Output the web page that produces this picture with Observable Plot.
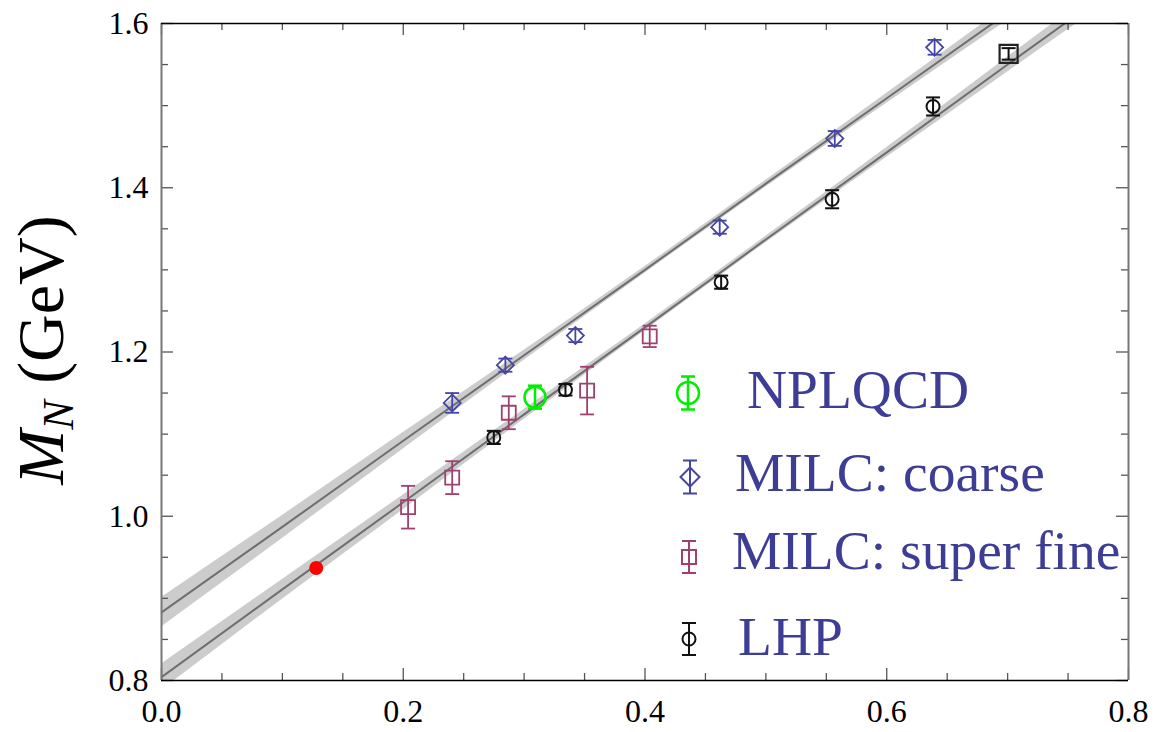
<!DOCTYPE html>
<html><head><meta charset="utf-8">
<script src="https://cdn.jsdelivr.net/npm/d3@7"></script>
<script src="https://cdn.jsdelivr.net/npm/@observablehq/plot@0.6"></script>
<style>
body{margin:0;background:#fff}
#chart{position:relative;width:1170px;height:732px}
#chart svg text, #chart svg tspan{font-family:"Liberation Serif","Times New Roman",serif}
</style>
</head><body><div id="chart"></div>
<script>
// ---- axes ----
const xDomain = [0, 0.8];
const yDomain = [0.8, 1.6];
const xMajor = [0, 0.2, 0.4, 0.6, 0.8];
const xMinor = [0.05, 0.1, 0.15, 0.25, 0.3, 0.35, 0.45, 0.5, 0.55, 0.65, 0.7, 0.75];
const yMajor = [0.8, 1.0, 1.2, 1.4, 1.6];
const yMinor = [0.85, 0.9, 0.95, 1.05, 1.1, 1.15, 1.25, 1.3, 1.35, 1.45, 1.5, 1.55];
const yLabelMain = "M";
const yLabelSub = "N";
const yLabelUnit = " (GeV)";

// ---- fit bands ----
const fitX      = [0, 0.1, 0.2, 0.3, 0.4, 0.5, 0.6, 0.7, 0.8];
const upperFit  = [0.883, 0.987, 1.092, 1.196, 1.300, 1.405, 1.509, 1.613, 1.717];
const upperHalf = [0.018, 0.014, 0.010, 0.006, 0.004, 0.004, 0.006, 0.009, 0.012];
const lowerFit  = [0.804, 0.911, 1.017, 1.124, 1.230, 1.337, 1.443, 1.550, 1.656];
const lowerHalf = [0.016, 0.012, 0.009, 0.006, 0.004, 0.004, 0.006, 0.009, 0.012];

// ---- data series ----
const nplqcdX = [0.309];
const nplqcdY = [1.145];
const nplqcdE = [0.014];

const coarseX = [0.2405, 0.2845, 0.3424, 0.4618, 0.557, 0.6396];
const coarseY = [1.138, 1.184, 1.220, 1.352, 1.460, 1.571];
const coarseE = [0.012, 0.008, 0.008, 0.008, 0.009, 0.009];

const superX = [0.204, 0.2405, 0.2873, 0.3521, 0.4039];
const superY = [1.011, 1.047, 1.126, 1.153, 1.219];
const superE = [0.026, 0.020, 0.020, 0.029, 0.013];

const lhpX = [0.2749, 0.3342, 0.463, 0.5548, 0.6383];
const lhpY = [1.096, 1.154, 1.285, 1.386, 1.499];
const lhpE = [0.008, 0.007, 0.008, 0.011, 0.011];

const heavyX = [0.7008];
const heavyY = [1.563];
const heavyE = [0.007];

const physX = [0.128];
const physY = [0.937];

const legendLabels = ["NPLQCD", "MILC: coarse", "MILC: super fine", "LHP"];

// ---- colors ----
const cGreen = "#00ee00", cBlue = "#4545a5", cMag = "#a0406f", cBlack = "#111111", cRed = "#ff0000";
const cText = "#3d3d96";
const FONT = "Liberation Serif, Times New Roman, serif";

// ---- helpers ----
const rows = (xs, ys, es) => xs.map((x, i) => ({x, y: ys[i], lo: ys[i] - (es ? es[i] : 0), hi: ys[i] + (es ? es[i] : 0)}));
const band = (c, h) => fitX.map((x, i) => ({x, y: c[i], lo: c[i] - h[i], hi: c[i] + h[i]}));
const capSym = {draw(ctx, size){ const r = Math.sqrt(size/Math.PI); ctx.moveTo(-r,0); ctx.lineTo(r,0); }};
const diamondSym = {draw(ctx, size){ const r = Math.sqrt(size/Math.PI); ctx.moveTo(0,-r); ctx.lineTo(r,0); ctx.lineTo(0,r); ctx.lineTo(-r,0); ctx.closePath(); }};
const squareSym = {draw(ctx, size){ const r = Math.sqrt(size/Math.PI); ctx.rect(-r,-r,2*r,2*r); }};

const W = 1170, H = 732, mL = 161, mR = 42, mT = 23, mB = 52;
const fH = H - mT - mB, fW = W - mL - mR;
const maj = 12, mnr = 7;

function errMarks(data, color, sw) {
  const caps = data.flatMap(d => [{x: d.x, y: d.lo}, {x: d.x, y: d.hi}]);
  return [
    Plot.ruleX(data, {x: "x", y1: "lo", y2: "hi", stroke: color, strokeWidth: sw}),
    Plot.dot(caps, {x: "x", y: "y", symbol: capSym, r: 7, stroke: color, strokeWidth: sw})
  ];
}

const upper = band(upperFit, upperHalf), lower = band(lowerFit, lowerHalf);
const nplqcd = rows(nplqcdX, nplqcdY, nplqcdE);
const coarse = rows(coarseX, coarseY, coarseE);
const sup = rows(superX, superY, superE);
const lhp = rows(lhpX, lhpY, lhpE);
const heavy = rows(heavyX, heavyY, heavyE);
const phys = rows(physX, physY);

const plot = Plot.plot({
  width: W, height: H,
  marginLeft: mL, marginRight: mR, marginTop: mT, marginBottom: mB,
  style: {fontFamily: FONT, fontSize: "32px", color: "black", background: "white"},
  x: {domain: xDomain, label: null},
  y: {domain: yDomain, label: null},
  marks: [
    Plot.areaY(upper, {x: "x", y1: "lo", y2: "hi", fill: "#cccccc", curve: "monotone-x", clip: true}),
    Plot.areaY(lower, {x: "x", y1: "lo", y2: "hi", fill: "#cccccc", curve: "monotone-x", clip: true}),
    Plot.line(upper, {x: "x", y: "y", stroke: "#6e6e6e", strokeWidth: 2, clip: true}),
    Plot.line(lower, {x: "x", y: "y", stroke: "#6e6e6e", strokeWidth: 2, clip: true}),
    // ticks (inward, mirrored)
    Plot.tickX(xMajor, {x: d => d, insetTop: fH - maj, stroke: "#555", strokeWidth: 1.3}),
    Plot.tickX(xMajor, {x: d => d, insetBottom: fH - maj, stroke: "#555", strokeWidth: 1.3}),
    Plot.tickX(xMinor, {x: d => d, insetTop: fH - mnr, stroke: "#555", strokeWidth: 1.3}),
    Plot.tickX(xMinor, {x: d => d, insetBottom: fH - mnr, stroke: "#555", strokeWidth: 1.3}),
    Plot.tickY(yMajor, {y: d => d, insetRight: fW - maj, stroke: "#555", strokeWidth: 1.3}),
    Plot.tickY(yMajor, {y: d => d, insetLeft: fW - maj, stroke: "#555", strokeWidth: 1.3}),
    Plot.tickY(yMinor, {y: d => d, insetRight: fW - mnr, stroke: "#555", strokeWidth: 1.3}),
    Plot.tickY(yMinor, {y: d => d, insetLeft: fW - mnr, stroke: "#555", strokeWidth: 1.3}),
    // frame
    Plot.ruleX(xDomain, {stroke: "#777", strokeWidth: 2}),
    Plot.ruleY(yDomain, {stroke: "black", strokeWidth: 1.5}),
    Plot.axisX({ticks: xMajor, tickSize: 0, tickPadding: 19, tickFormat: d3.format(".1f"), fontSize: 32, fontFamily: FONT, label: null}),
    Plot.axisY({ticks: yMajor, tickSize: 0, tickPadding: 13, tickFormat: d3.format(".1f"), fontSize: 32, fontFamily: FONT, label: null}),
    // data
    ...errMarks(coarse, cBlue, 1.8),
    Plot.dot(coarse, {x: "x", y: "y", symbol: diamondSym, r: 8.5, stroke: cBlue, strokeWidth: 1.8, fill: "none"}),
    ...errMarks(sup, cMag, 1.8),
    Plot.dot(sup, {x: "x", y: "y", symbol: squareSym, r: 7, stroke: cMag, strokeWidth: 1.8, fill: "none"}),
    ...errMarks(lhp, cBlack, 2),
    Plot.dot(lhp, {x: "x", y: "y", symbol: "circle", r: 6.5, stroke: cBlack, strokeWidth: 2, fill: "none"}),
    ...errMarks(heavy, cBlack, 2),
    Plot.dot(heavy, {x: "x", y: "y", symbol: squareSym, r: 9, stroke: "#222", strokeWidth: 2.2, fill: "none"}),
    ...errMarks(nplqcd, cGreen, 2.5),
    Plot.dot(nplqcd, {x: "x", y: "y", symbol: "circle", r: 10.5, stroke: cGreen, strokeWidth: 2.5, fill: "none"}),
    Plot.dot(phys, {x: "x", y: "y", r: 7, fill: cRed})
  ]
});

document.getElementById("chart").appendChild(plot);
const svg = d3.select(plot);

// ---- y-axis label with subscript ----
const yl = svg.append("text")
  .attr("transform", "translate(63,350) rotate(-90)")
  .attr("text-anchor", "middle")
  .attr("font-family", FONT)
  .attr("font-size", 66)
  .attr("fill", "black");
yl.append("tspan").attr("font-style", "italic").attr("font-family", FONT).text(yLabelMain);
yl.append("tspan").attr("font-style", "italic").attr("font-family", FONT).attr("font-size", 44).attr("dy", 10).text(yLabelSub);
yl.append("tspan").attr("font-family", FONT).attr("dy", -10).text(yLabelUnit);

// ---- legend (inside the frame) ----
const legendRows = [
  {label: legendLabels[0], color: cGreen, sym: "circle", size: 11, sw: 2.5, cx: 688, cy: 393, bar: 16.5, tx: 747, ty: 408},
  {label: legendLabels[1], color: cBlue, sym: "diamond", size: 9.5, sw: 2, cx: 690, cy: 477, bar: 16.5, tx: 735, ty: 491},
  {label: legendLabels[2], color: cMag, sym: "square", size: 7, sw: 2, cx: 689, cy: 557, bar: 16, tx: 732, ty: 569},
  {label: legendLabels[3], color: cBlack, sym: "circle", size: 6.5, sw: 2, cx: 689, cy: 639, bar: 16, tx: 738, ty: 655}
];
const lg = svg.append("g").attr("class", "legend");
legendRows.forEach(r => {
  const g = lg.append("g").attr("transform", `translate(${r.cx},${r.cy})`).attr("fill", "none").attr("stroke", r.color).attr("stroke-width", r.sw);
  g.append("line").attr("x1", 0).attr("x2", 0).attr("y1", -r.bar).attr("y2", r.bar);
  g.append("line").attr("x1", -7).attr("x2", 7).attr("y1", -r.bar).attr("y2", -r.bar);
  g.append("line").attr("x1", -7).attr("x2", 7).attr("y1", r.bar).attr("y2", r.bar);
  const s = r.size;
  if (r.sym === "circle") g.append("circle").attr("r", s);
  else if (r.sym === "diamond") g.append("path").attr("d", `M0,${-s}L${s},0L0,${s}L${-s},0Z`);
  else g.append("rect").attr("x", -s).attr("y", -s).attr("width", 2*s).attr("height", 2*s);
  lg.append("text").attr("x", r.tx).attr("y", r.ty)
    .attr("text-anchor", "start")
    .attr("font-family", FONT).attr("font-size", 55.5)
    .attr("fill", cText).text(r.label);
});
</script>
</body></html>
